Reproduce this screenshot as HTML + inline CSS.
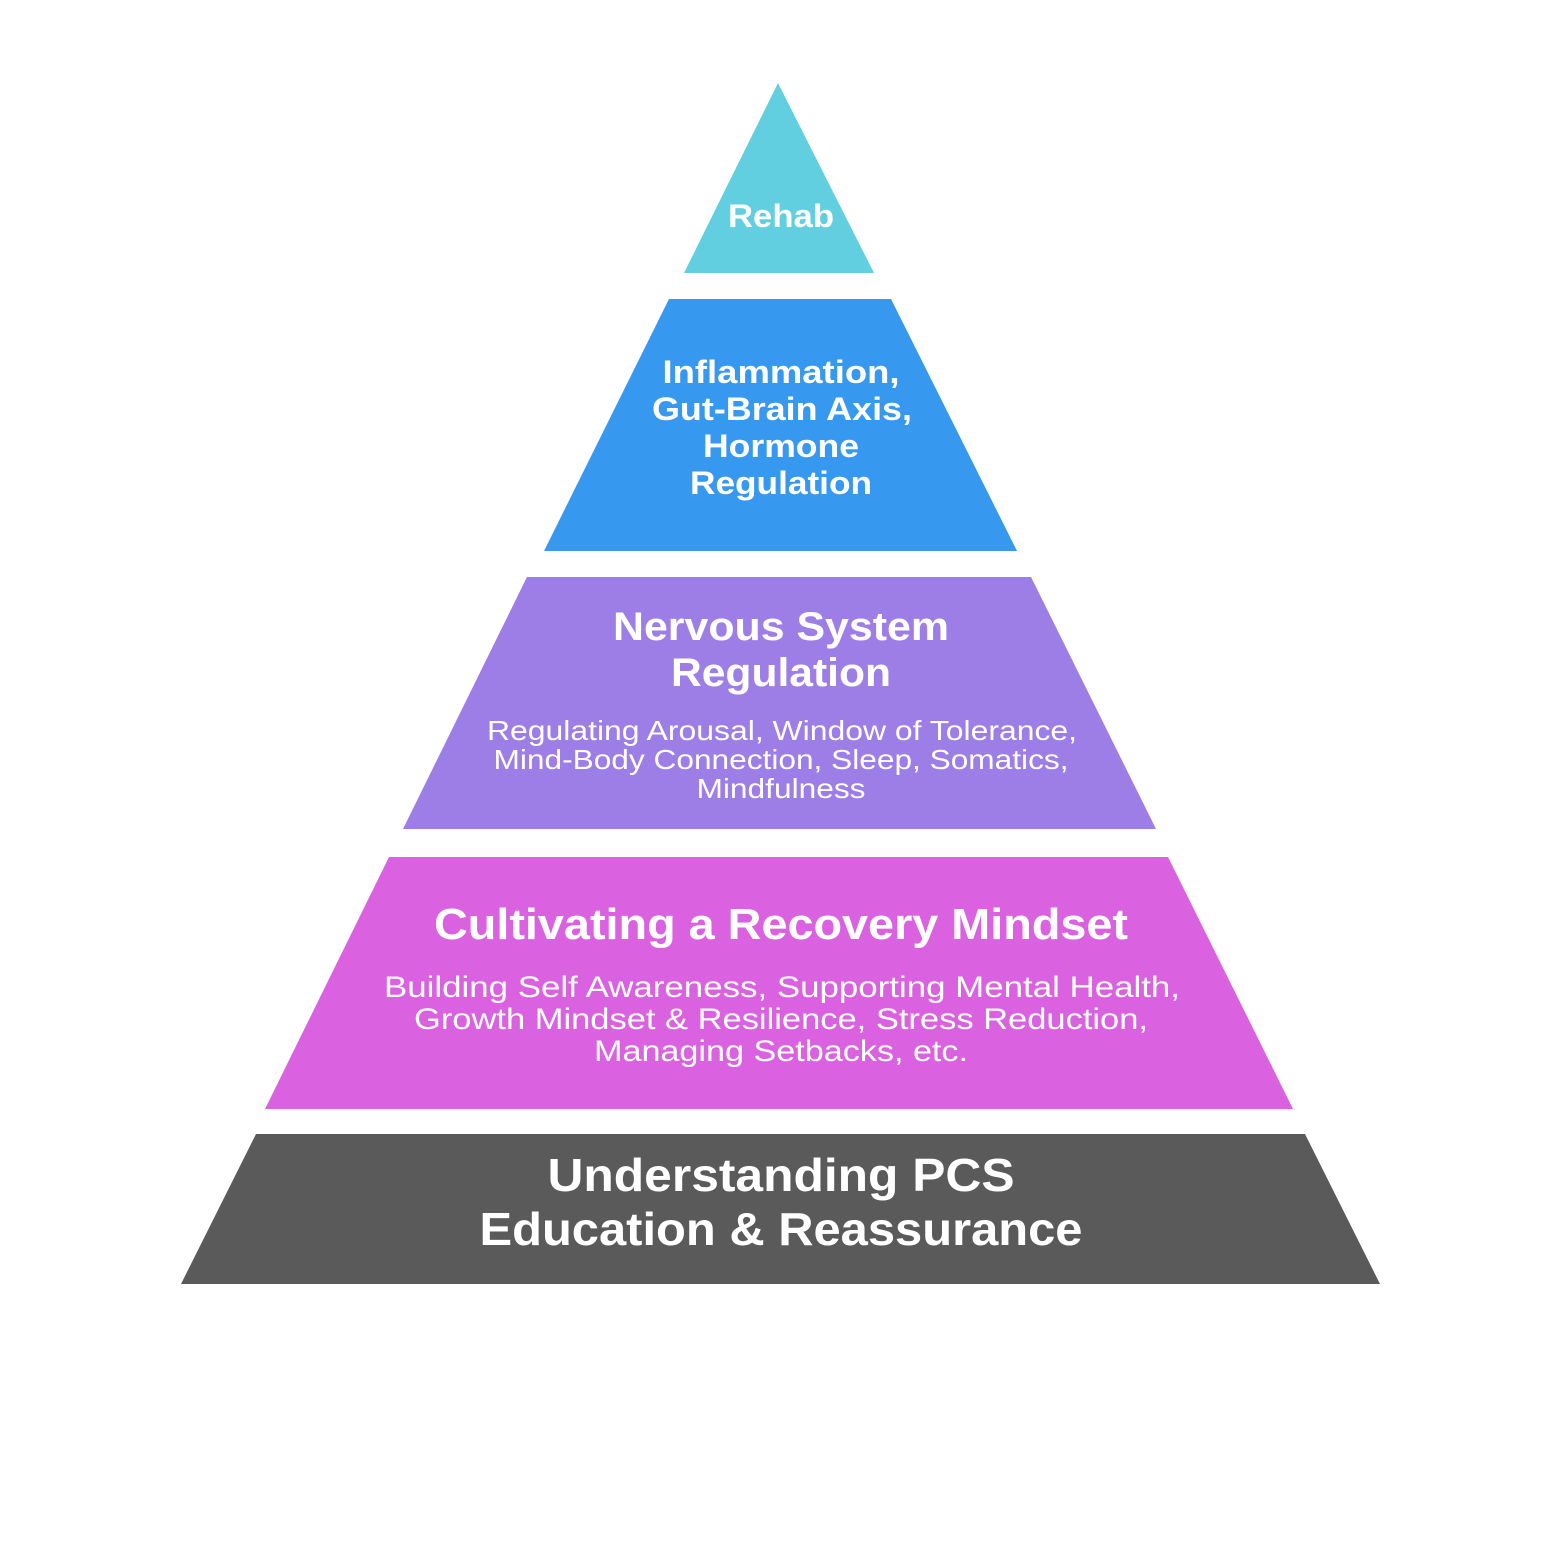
<!DOCTYPE html>
<html><head><meta charset="utf-8"><style>
html,body{margin:0;padding:0;background:#fff;}
svg{display:block;}
text{font-family:"Liberation Sans",sans-serif;fill:#fff;text-anchor:middle;}
.b{font-weight:bold;}
</style></head><body>
<svg width="1563" height="1563" viewBox="0 0 1563 1563" xmlns="http://www.w3.org/2000/svg">
<rect width="1563" height="1563" fill="#fff"/>
<polygon points="778,83 874,273 684,273" fill="#62CFE1"/>
<polygon points="669,299 891,299 1017,551 544,551" fill="#3798EF"/>
<polygon points="527,577 1031,577 1156,829 403,829" fill="#9D7DE6"/>
<polygon points="389,857 1168,857 1293,1109 265,1109" fill="#DA62E0"/>
<polygon points="256,1134 1305,1134 1380,1284 181,1284" fill="#5A5A5A"/>

<text class="b" x="781" y="227" font-size="32" textLength="106" lengthAdjust="spacingAndGlyphs">Rehab</text>

<text class="b" x="781" y="383" font-size="32" textLength="237" lengthAdjust="spacingAndGlyphs">Inflammation,</text>
<text class="b" x="782" y="420" font-size="32" textLength="260" lengthAdjust="spacingAndGlyphs">Gut-Brain Axis,</text>
<text class="b" x="781" y="457" font-size="32" textLength="156" lengthAdjust="spacingAndGlyphs">Hormone</text>
<text class="b" x="781" y="494" font-size="32" textLength="182" lengthAdjust="spacingAndGlyphs">Regulation</text>

<text class="b" x="781" y="640" font-size="40" textLength="336" lengthAdjust="spacingAndGlyphs">Nervous System</text>
<text class="b" x="781" y="686" font-size="40" textLength="220" lengthAdjust="spacingAndGlyphs">Regulation</text>
<text x="782" y="740" font-size="28" textLength="590" lengthAdjust="spacingAndGlyphs">Regulating Arousal, Window of Tolerance,</text>
<text x="781" y="769" font-size="28" textLength="575" lengthAdjust="spacingAndGlyphs">Mind-Body Connection, Sleep, Somatics,</text>
<text x="781" y="798" font-size="28" textLength="169" lengthAdjust="spacingAndGlyphs">Mindfulness</text>

<text class="b" x="781" y="939" font-size="44" textLength="694" lengthAdjust="spacingAndGlyphs">Cultivating a Recovery Mindset</text>
<text x="782" y="997" font-size="30" textLength="796" lengthAdjust="spacingAndGlyphs">Building Self Awareness, Supporting Mental Health,</text>
<text x="781" y="1029" font-size="30" textLength="734" lengthAdjust="spacingAndGlyphs">Growth Mindset &amp; Resilience, Stress Reduction,</text>
<text x="781" y="1061" font-size="30" textLength="374" lengthAdjust="spacingAndGlyphs">Managing Setbacks, etc.</text>

<text class="b" x="781" y="1191" font-size="46" textLength="467" lengthAdjust="spacingAndGlyphs">Understanding PCS</text>
<text class="b" x="781" y="1245" font-size="46" textLength="603" lengthAdjust="spacingAndGlyphs">Education &amp; Reassurance</text>
</svg>
</body></html>
